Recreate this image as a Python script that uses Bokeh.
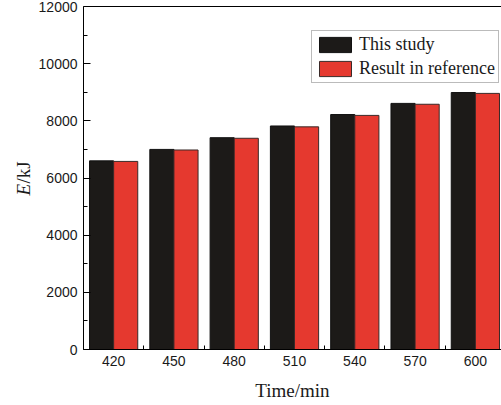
from bokeh.plotting import figure
from bokeh.layouts import row
from bokeh.models import (ColumnDataSource, Range1d, FixedTicker, LinearAxis,
                          Legend, LegendItem, Label)
from bokeh.transform import dodge
from bokeh.embed import file_html
from bokeh.resources import INLINE

# ---- data ----
times = [420, 450, 480, 510, 540, 570, 600]
tick_labels = ["420", "450", "480", "510", "540", "570", "600"]
this_study = [6600, 7000, 7410, 7820, 8220, 8610, 8990]
result_in_reference = [6580, 6980, 7390, 7790, 8190, 8580, 8960]
series_names = ["This study", "Result in reference"]
y_ticks = [0, 2000, 4000, 6000, 8000, 10000, 12000]

BLACK = "#1c1a18"
RED = "#e5392f"

src = ColumnDataSource(dict(time=times, a=this_study, b=result_in_reference))

LW = 35
p = figure(width=501 - LW, height=405, output_backend="svg", toolbar_location=None,
           x_range=Range1d(405, 613), y_range=Range1d(0, 12000),
           min_border_left=83 - LW, min_border_right=0, min_border_top=6,
           min_border_bottom=56)
p.outline_line_color = None
p.xgrid.visible = False
p.ygrid.visible = False
p.background_fill_color = "white"
p.border_fill_color = "white"

r1 = p.vbar(x=dodge("time", -6), top="a", width=12, source=src,
            fill_color=BLACK, line_color="#111111", line_width=1)
r2 = p.vbar(x=dodge("time", 6), top="b", width=12, source=src,
            fill_color=RED, line_color="#3a2a28", line_width=1)

# x axis
xa = p.xaxis[0]
minor_x = [times[0] - 15] + [t + 15 for t in times]
xa.ticker = FixedTicker(ticks=times, minor_ticks=minor_x)
xa.major_label_overrides = {t: l for t, l in zip(times, tick_labels)}
xa.major_tick_in = 0
xa.major_tick_out = 0
xa.minor_tick_in = 4
xa.minor_tick_out = 0
xa.minor_tick_line_color = "black"
xa.axis_line_color = "black"
xa.major_label_standoff = 6
xa.major_label_text_font = "Liberation Sans"
xa.major_label_text_font_size = "14px"
xa.major_label_text_color = "#1a1a1a"
xa.axis_label = "Time/min"
xa.axis_label_text_font = "Liberation Serif"
xa.axis_label_text_font_style = "normal"
xa.axis_label_text_font_size = "19px"
xa.axis_label_text_color = "#1a1a1a"
xa.axis_label_standoff = 11

# y axis
ya = p.yaxis[0]
ya.ticker = FixedTicker(ticks=y_ticks,
                        minor_ticks=[v + 1000 for v in y_ticks[:-1]])
ya.major_tick_in = 7
ya.major_tick_out = 0
ya.minor_tick_in = 4
ya.minor_tick_out = 0
ya.major_tick_line_color = "black"
ya.minor_tick_line_color = "black"
ya.axis_line_color = "black"
ya.major_label_standoff = 6
ya.major_label_text_font = "Liberation Sans"
ya.major_label_text_font_size = "14px"
ya.major_label_text_color = "#1a1a1a"

# top border line (no right border in reference)
top = LinearAxis(ticker=FixedTicker(ticks=[]), major_label_text_font_size="0px",
                 major_tick_out=0, major_tick_in=0, minor_tick_out=0,
                 minor_tick_in=0, major_label_standoff=0, axis_label_standoff=0,
                 axis_line_color="black")
p.add_layout(top, "above")

legend = Legend(items=[LegendItem(label=series_names[0], renderers=[r1]),
                       LegendItem(label=series_names[1], renderers=[r2])],
                location=(228, 266))
legend.glyph_width = 40
legend.glyph_height = 19
legend.label_height = 19
legend.label_standoff = 4
legend.spacing = 3
legend.padding = 3
legend.margin = 0
legend.label_text_font = "Liberation Serif"
legend.label_text_font_size = "18px"
legend.label_text_color = "#1a1a1a"
legend.border_line_color = "#777777"
legend.border_line_width = 1
legend.background_fill_color = "white"
legend.background_fill_alpha = 1
p.add_layout(legend)

# narrow side figure holding the y-axis title (italic E + /kJ)
side = figure(width=LW, height=405, output_backend="svg", toolbar_location=None,
              x_range=Range1d(0, 1), y_range=Range1d(0, 1),
              x_axis_type=None, y_axis_type=None,
              min_border_left=0, min_border_right=0, min_border_top=0,
              min_border_bottom=0)
side.outline_line_color = None
side.xgrid.visible = False
side.ygrid.visible = False
lab_e = Label(x=23, y=154, x_units="screen", y_units="screen", text="E",
              angle=90, angle_units="deg", text_align="left",
              text_baseline="alphabetic", text_font="Liberation Serif",
              text_font_style="italic", text_font_size="19px",
              text_color="#1a1a1a")
lab_u = Label(x=23, y=166, x_units="screen", y_units="screen", text="/kJ",
              angle=90, angle_units="deg", text_align="left",
              text_baseline="alphabetic", text_font="Liberation Serif",
              text_font_size="19px", text_color="#1a1a1a")
side.add_layout(lab_e)
side.add_layout(lab_u)

layout = row(side, p, spacing=0)
open("out.html", "w").write(file_html(layout, INLINE))
